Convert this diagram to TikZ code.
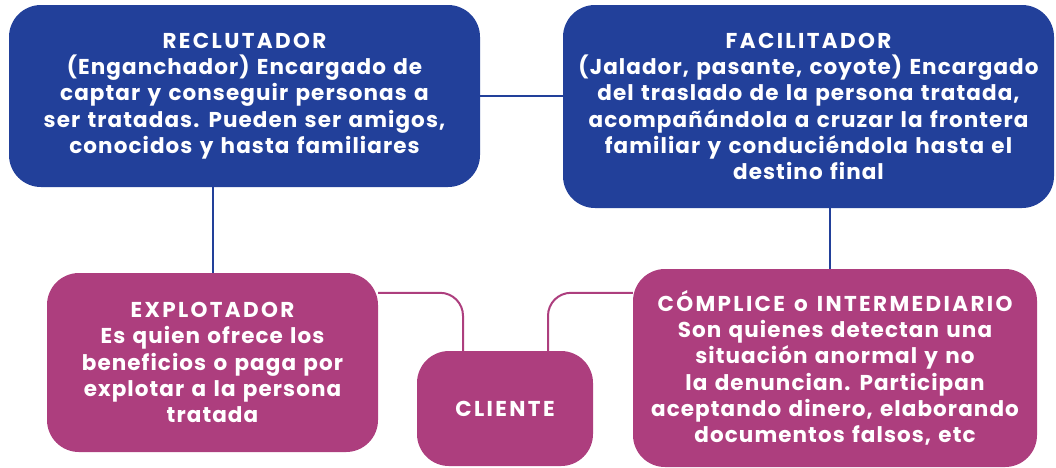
\documentclass[tikz,border=0pt]{standalone}
\usepackage{fontspec}
\setmainfont{Poppins}[LetterSpace=5,WordSpace=1.3]
\newfontfamily\rolettl{Poppins}[LetterSpace=11,WordSpace=1.3]
\newcommand{\rolehead}[1]{{\rolettl\bfseries #1}}
\usetikzlibrary{backgrounds}
\definecolor{rolblue}{HTML}{22409A}
\definecolor{rolmag}{HTML}{AD3E7E}
\begin{document}
\begin{tikzpicture}[x=1pt,y=-1pt,
  rolebox/.style={rounded corners=32pt, text=white, align=center,
    font=\bfseries\fontsize{21.5}{26.3}\selectfont, inner sep=0pt},
  bluebox/.style={rolebox, fill=rolblue},
  magbox/.style={rolebox, fill=rolmag},
  bluelink/.style={draw=rolblue, line width=2pt},
  maglink/.style={draw=rolmag, line width=2pt, rounded corners=23pt}]
\useasboundingbox (0,0) rectangle (1056,467);
\node[bluebox, minimum width=471pt, minimum height=182pt] (rec) at (244.5,96)
  {\rolehead{RECLUTADOR}\\(Enganchador) Encargado de\\captar y conseguir personas a\\ser tratadas. Pueden ser amigos,\\conocidos y hasta familiares};
\node[bluebox, minimum width=491pt, minimum height=203pt] (fac) at (808.5,106.5)
  {\rolehead{FACILITADOR}\\(Jalador, pasante, coyote) Encargado\\del traslado de la persona tratada,\\acompañándola a cruzar la frontera\\familiar y conduciéndola hasta el\\destino final};
\node[magbox, minimum width=331pt, minimum height=179pt] (exp) at (212.5,362.5)
  {\rolehead{EXPLOTADOR}\\Es quien ofrece los\\beneficios o paga por\\explotar a la persona\\tratada};
\node[magbox, minimum width=176pt, minimum height=115pt] (cli) at (505,408.5)
  {\rolehead{CLIENTE}};
\node[magbox, minimum width=404pt, minimum height=198pt] (comp) at (835,368)
  {\rolehead{CÓMPLICE o INTERMEDIARIO}\\Son quienes detectan una\\situación anormal y no\\la denuncian. Participan\\aceptando dinero, elaborando\\documentos falsos, etc};
\begin{scope}[on background layer]
\draw[bluelink] (rec.east) -- (rec.east -| fac.west);
\draw[bluelink] (exp.north) -- (exp.north |- rec.south);
\draw[bluelink] ([xshift=-5pt]comp.north) -- ([xshift=-5pt]comp.north |- fac.south);
\draw[maglink] ([yshift=-20pt]exp.north east) -| ([xshift=-42pt]cli.north);
\draw[maglink] ([xshift=43pt]cli.north) |- ([yshift=-24pt]comp.north west);
\end{scope}
\end{tikzpicture}
\end{document}
